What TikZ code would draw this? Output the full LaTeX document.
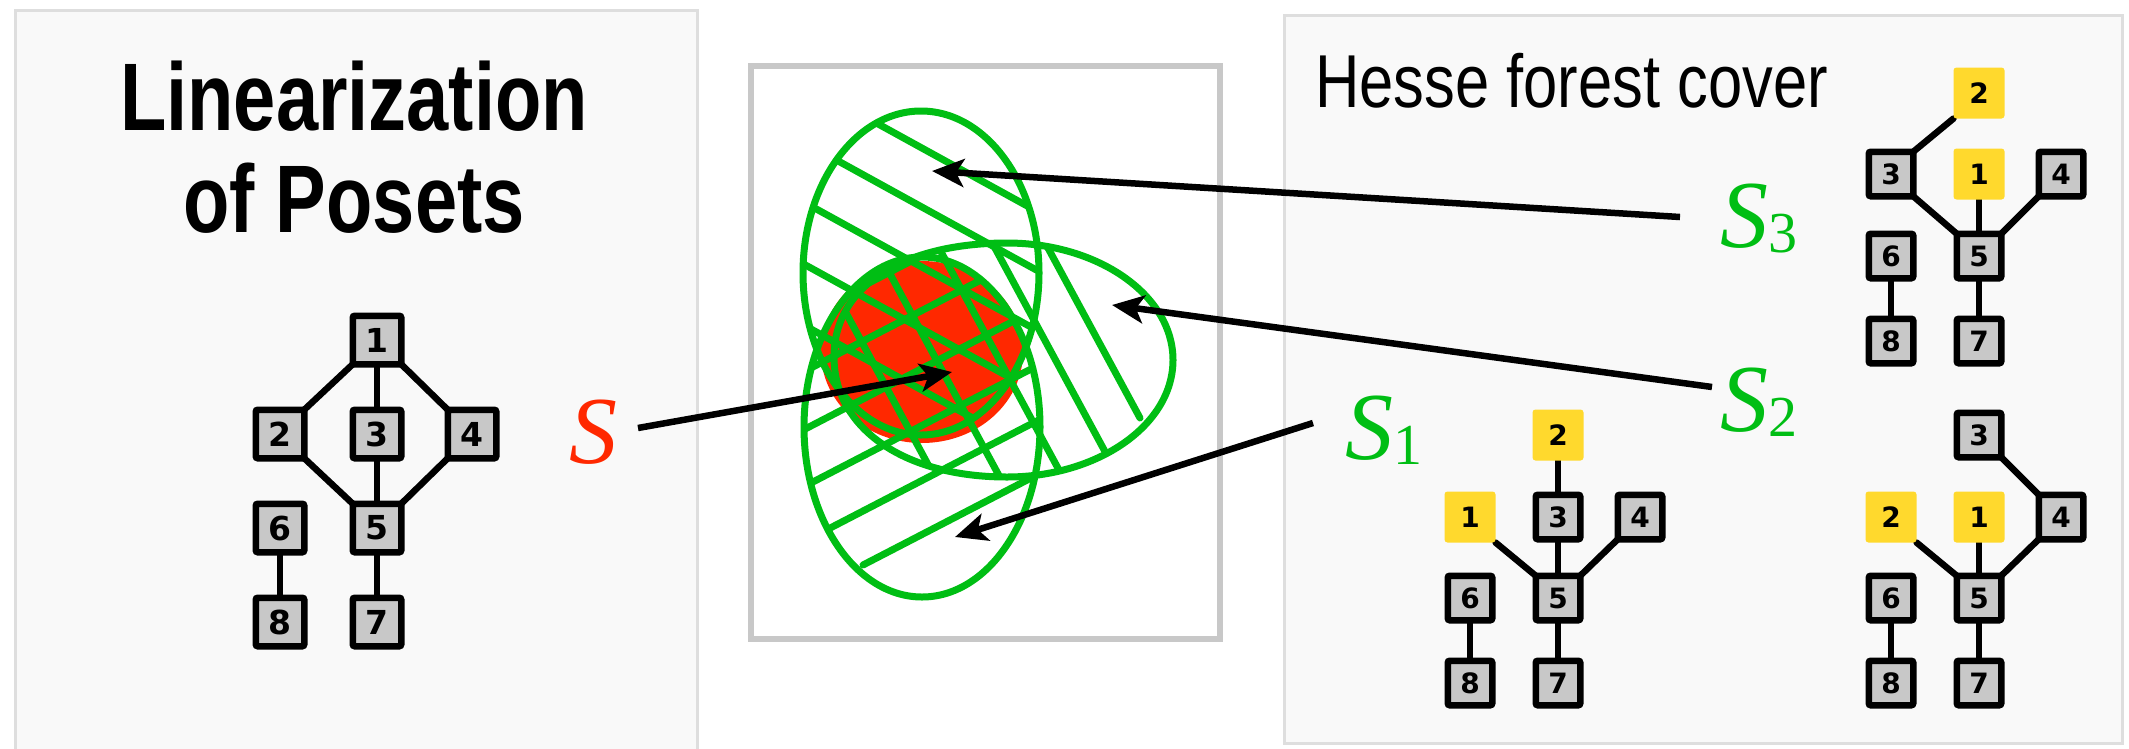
\documentclass[tikz,border=0pt]{standalone}
\usepackage{fontspec}
\usepackage{graphicx}
\setmainfont{Liberation Sans}
\newfontfamily\digitfont{DejaVu Sans}
\newfontfamily\timesfont{Liberation Serif}
\usetikzlibrary{arrows.meta}
\definecolor{panelbg}{RGB}{249,249,249}
\definecolor{panelborder}{RGB}{222,222,222}
\definecolor{framegray}{RGB}{200,200,200}
\definecolor{nodegray}{RGB}{200,200,200}
\definecolor{nodeyellow}{RGB}{255,217,45}
\definecolor{setgreen}{RGB}{0,190,20}
\definecolor{setred}{RGB}{255,40,0}
\pgfdeclarelayer{bglayer}
\pgfdeclarelayer{edgelayer}
\pgfsetlayers{bglayer,edgelayer,main}
\begin{document}
\begin{tikzpicture}[x=1pt,y=-1pt,
  panel/.style={fill=panelbg, draw=panelborder, line width=3pt},
  gnode/.style={draw=black, fill=nodegray, line width=6.5pt, inner sep=0pt, outer sep=0pt,
    minimum size=48.5pt, rounded corners=2pt, font={\digitfont\bfseries\fontsize{33}{33}\selectfont}},
  gsmall/.style={gnode, minimum size=44.5pt, font={\digitfont\bfseries\fontsize{28}{28}\selectfont}},
  ysmall/.style={gsmall, draw=none, fill=nodeyellow, minimum size=51pt, rounded corners=3pt},
  link/.style={line width=6.5pt, line cap=round},
  hatch/.style={draw=setgreen, line width=7pt, line cap=round},
  setline/.style={draw=setgreen, line width=7pt},
  arr/.style={line width=6.5pt, -{Stealth[length=32pt,width=28pt,inset=8pt]}},
  lab/.style={font={\timesfont\fontsize{96}{96}\selectfont}, inner sep=0pt, anchor=base west},
]
\useasboundingbox (0,0) rectangle (2129,748);

% panels
\begin{pgfonlayer}{bglayer}
  \fill[white] (0,0) rectangle (2129,748);
  \draw[panel] (15,10) rectangle (697,770);
  \draw[panel] (1284,15) rectangle (2122,743);
  \draw[draw=framegray, fill=white, line width=6pt] (751,66) rectangle (1220,639);
\end{pgfonlayer}

% titles
\node[anchor=base, inner sep=0pt] (T1) at (354,130)
  {\scalebox{0.79}[1]{\fontsize{96}{96}\selectfont\bfseries Linearization}};
\node[anchor=base, inner sep=0pt] (T2) at (354,232)
  {\scalebox{0.79}[1]{\fontsize{96}{96}\selectfont\bfseries of Posets}};
\node[anchor=base west, inner sep=0pt] (H) at (1315,107)
  {\scalebox{0.82}[1]{\fontsize{75}{75}\selectfont Hesse forest cover}};

% left poset
\node[gnode] (L1) at (377,340) {1};
\node[gnode] (L2) at (280,434) {2};
\node[gnode] (L3) at (377,434) {3};
\node[gnode] (L4) at (472,434) {4};
\node[gnode] (L5) at (377,528) {5};
\node[gnode] (L6) at (280,528) {6};
\node[gnode] (L7) at (377,622) {7};
\node[gnode] (L8) at (280,622) {8};

% forest A (top right)
\node[ysmall] (A2) at (1979,93) {2};
\node[gsmall] (A3) at (1891,174) {3};
\node[ysmall] (A1) at (1979,174) {1};
\node[gsmall] (A4) at (2061,174) {4};
\node[gsmall] (A6) at (1891,256) {6};
\node[gsmall] (A5) at (1979,256) {5};
\node[gsmall] (A8) at (1891,341) {8};
\node[gsmall] (A7) at (1979,341) {7};

% forest B (bottom left)
\node[ysmall] (B2) at (1558,435) {2};
\node[ysmall] (B1) at (1470,517) {1};
\node[gsmall] (B3) at (1558,517) {3};
\node[gsmall] (B4) at (1640,517) {4};
\node[gsmall] (B6) at (1470,598) {6};
\node[gsmall] (B5) at (1558,598) {5};
\node[gsmall] (B8) at (1470,683) {8};
\node[gsmall] (B7) at (1558,683) {7};

% forest C (bottom right)
\node[gsmall] (C3) at (1979,435) {3};
\node[ysmall] (C2) at (1891,517) {2};
\node[ysmall] (C1) at (1979,517) {1};
\node[gsmall] (C4) at (2061,517) {4};
\node[gsmall] (C6) at (1891,598) {6};
\node[gsmall] (C5) at (1979,598) {5};
\node[gsmall] (C8) at (1891,683) {8};
\node[gsmall] (C7) at (1979,683) {7};

\begin{pgfonlayer}{edgelayer}
  \draw[link] (L1.south west) -- (L2.north east);
  \draw[link] (L1) -- (L3);
  \draw[link] (L1.south east) -- (L4.north west);
  \draw[link] (L2.south east) -- (L5.north west);
  \draw[link] (L3) -- (L5);
  \draw[link] (L4.south west) -- (L5.north east);
  \draw[link] (L6) -- (L8);
  \draw[link] (L5) -- (L7);

  \draw[link] (A2.south west) -- (A3.north east);
  \draw[link] (A3.south east) -- (A5.north west);
  \draw[link] (A1) -- (A5);
  \draw[link] (A4.south west) -- (A5.north east);
  \draw[link] (A6) -- (A8);
  \draw[link] (A5) -- (A7);

  \draw[link] (B2) -- (B3);
  \draw[link] (B1.south east) -- (B5.north west);
  \draw[link] (B3) -- (B5);
  \draw[link] (B4.south west) -- (B5.north east);
  \draw[link] (B6) -- (B8);
  \draw[link] (B5) -- (B7);

  \draw[link] (C3.south east) -- (C4.north west);
  \draw[link] (C2.south east) -- (C5.north west);
  \draw[link] (C1) -- (C5);
  \draw[link] (C4.south west) -- (C5.north east);
  \draw[link] (C6) -- (C8);
  \draw[link] (C5) -- (C7);
\end{pgfonlayer}

% red set S
\fill[setred] (922,352) ellipse [x radius=101pt, y radius=91pt];

% hatching S3 (top ellipse)
\begin{scope}
  \clip (921,273) ellipse [x radius=118pt, y radius=162pt];
  \draw[hatch] (780,70) -- (1060,224);
  \draw[hatch] (780,129) -- (1060,283);
  \draw[hatch] (780,189) -- (1060,343);
  \draw[hatch] (780,251) -- (1060,405);
  \draw[hatch] (780,312) -- (980,422);
\end{scope}
% hatching S1 (bottom ellipse)
\begin{scope}
  \clip (922,427) ellipse [x radius=118pt, y radius=170pt];
  \draw[hatch] (863,565) -- (1060,463);
  \draw[hatch] (780,554) -- (1060,409);
  \draw[hatch] (780,499) -- (1060,354);
  \draw[hatch] (780,442) -- (1060,297);
  \draw[hatch] (780,384) -- (1060,239);
  \draw[hatch] (780,329) -- (1060,184);
\end{scope}
% hatching S2 (egg)
\begin{scope}
  \clip (834,357) .. controls (834,285) and (905,243) .. (1007,243)
        .. controls (1098,243) and (1173,295) .. (1173,360)
        .. controls (1173,425) and (1098,477) .. (1007,477)
        .. controls (905,477) and (834,429) .. (834,357) -- cycle;
  \draw[hatch] (1022,200) -- (1140,418);
  \draw[hatch] (969,200) -- (1142,520);
  \draw[hatch] (913,200) -- (1086,520);
  \draw[hatch] (850,200) -- (1023,520);
  \draw[hatch] (785,200) -- (958,520);
\end{scope}

% set outlines
\draw[setline] (921,273) ellipse [x radius=118pt, y radius=162pt];
\draw[setline] (922,427) ellipse [x radius=118pt, y radius=170pt];
\draw[setline] (834,357) .. controls (834,285) and (905,243) .. (1007,243)
        .. controls (1098,243) and (1173,295) .. (1173,360)
        .. controls (1173,425) and (1098,477) .. (1007,477)
        .. controls (905,477) and (834,429) .. (834,357) -- cycle;

% labels
\node[lab, text=setred] (S) at (569,463) {\itshape S};
\node[lab, text=setgreen] (S3) at (1720,247)
  {\itshape S\raisebox{-5pt}{\upshape\fontsize{58}{58}\selectfont 3}};
\node[lab, text=setgreen] (S2) at (1720,431)
  {\itshape S\raisebox{-5pt}{\upshape\fontsize{58}{58}\selectfont 2}};
\node[lab, text=setgreen] (S1) at (1345,459)
  {\itshape S\raisebox{-5pt}{\upshape\fontsize{58}{58}\selectfont 1}};

% arrows
\coordinate (Sfrom) at (638,428);
\coordinate (Sto) at (952,372);
\coordinate (S3from) at (1680,217);
\coordinate (S3to) at (932,171);
\coordinate (S2from) at (1712,387);
\coordinate (S2to) at (1112,305);
\coordinate (S1from) at (1313,423);
\coordinate (S1to) at (955,537);
\draw[arr] (Sfrom) -- (Sto);
\draw[arr] (S3from) -- (S3to);
\draw[arr] (S2from) -- (S2to);
\draw[arr] (S1from) -- (S1to);
\end{tikzpicture}
\end{document}
